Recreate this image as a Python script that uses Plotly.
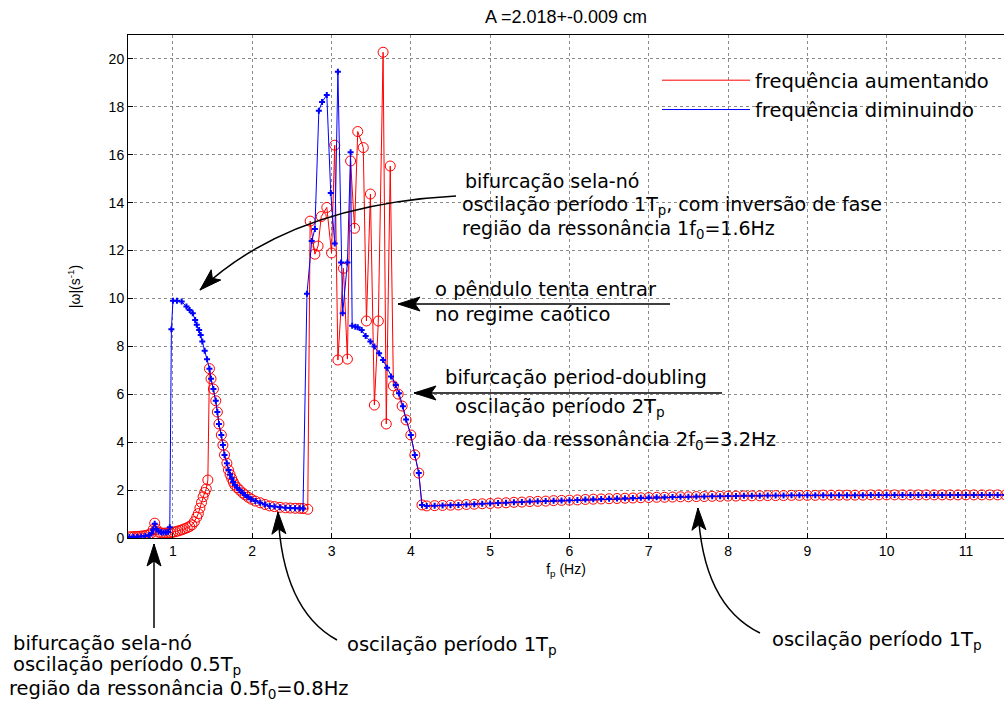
import math
import plotly.graph_objects as go

# ---------------- data ----------------
# low-frequency part, frequency increasing (red)
low_red_f = [0.45, 0.48, 0.51, 0.54, 0.57, 0.60, 0.63, 0.66, 0.69, 0.72, 0.75, 0.77, 0.79,
             0.82, 0.85, 0.88, 0.91, 0.94, 0.97, 1.00, 1.03, 1.06, 1.09, 1.12, 1.15, 1.18,
             1.21, 1.24, 1.27, 1.30, 1.32, 1.34, 1.36, 1.38, 1.40, 1.42, 1.44]
low_red_w = [0.05, 0.05, 0.06, 0.06, 0.07, 0.08, 0.09, 0.11, 0.13, 0.18, 0.35, 0.62, 0.36,
             0.24, 0.21, 0.20, 0.21, 0.21, 0.22, 0.24, 0.26, 0.29, 0.32, 0.35, 0.39, 0.43,
             0.48, 0.55, 0.68, 0.87, 1.02, 1.25, 1.48, 1.72, 1.90, 2.05, 2.42]

# low-frequency part, frequency decreasing (blue)
low_blue_f = [0.45, 0.50, 0.55, 0.60, 0.65, 0.70, 0.73, 0.75, 0.77, 0.79, 0.82, 0.85, 0.88,
              0.91, 0.94, 0.96, 0.98, 1.00, 1.05, 1.11, 1.17, 1.21, 1.25, 1.28, 1.30, 1.33,
              1.35, 1.37, 1.40, 1.43]
low_blue_w = [0.04, 0.05, 0.05, 0.06, 0.08, 0.12, 0.20, 0.35, 0.60, 0.38, 0.27, 0.24, 0.23,
              0.24, 0.25, 0.45, 8.71, 9.91, 9.91, 9.87, 9.66, 9.52, 9.38, 9.10, 8.90, 8.68,
              8.48, 8.20, 7.82, 7.46]

# common decaying branch (both sweeps)
mid_f = [1.46, 1.48, 1.51, 1.54, 1.56, 1.58, 1.61, 1.63, 1.65, 1.68, 1.70, 1.72, 1.74, 1.76,
         1.78, 1.81, 1.84, 1.88, 1.91, 1.95, 1.99, 2.04, 2.10, 2.16, 2.22, 2.28, 2.35, 2.42,
         2.48, 2.54, 2.60, 2.64]
mid_w = [7.07, 6.65, 6.22, 5.73, 5.26, 4.76, 4.30, 3.88, 3.47, 3.12, 2.84, 2.65, 2.49, 2.34,
         2.21, 2.10, 2.00, 1.88, 1.80, 1.70, 1.62, 1.54, 1.47, 1.40, 1.34, 1.31, 1.28, 1.26,
         1.25, 1.24, 1.24, 1.23]

# chaotic / period-doubling region
chaos_red_f = [2.70, 2.73, 2.79, 2.83, 2.87, 2.94, 3.00, 3.04, 3.08, 3.15, 3.20, 3.24, 3.29,
               3.33, 3.40, 3.44, 3.49, 3.54, 3.59, 3.65, 3.69, 3.74, 3.78, 3.84, 3.89, 3.94,
               4.00, 4.05, 4.10, 4.14]
chaos_red_w = [1.20, 13.23, 11.85, 12.19, 13.42, 13.80, 11.90, 16.40, 7.43, 11.26, 7.47, 15.74,
               12.93, 16.97, 16.30, 9.06, 14.36, 5.55, 9.06, 20.28, 4.76, 15.53, 6.35, 6.01,
               5.51, 4.93, 4.30, 3.47, 2.71, 1.38]

chaos_blue_f = [2.69, 2.75, 2.79, 2.84, 2.88, 2.94, 2.99, 3.04, 3.08, 3.12, 3.14, 3.20, 3.24,
                3.26, 3.30, 3.33, 3.38, 3.43, 3.49, 3.54, 3.60, 3.65, 3.70, 3.75, 3.81, 3.85,
                3.90, 3.94, 4.00, 4.05, 4.10, 4.14]
chaos_blue_w = [10.20, 12.40, 12.90, 17.84, 18.20, 18.50, 14.40, 12.30, 19.47, 11.50, 9.38,
                11.50, 16.10, 8.86, 8.82, 8.80, 8.68, 8.43, 8.20, 7.99, 7.71, 7.43, 7.11, 6.74,
                6.39, 6.04, 5.50, 4.95, 4.30, 3.47, 2.71, 1.38]

# high-frequency tail (both sweeps)
tail_f = [4.2, 4.3, 4.4, 4.5, 4.6, 4.7, 4.8, 4.9, 5.0, 5.1, 5.2, 5.3, 5.4, 5.5, 5.6, 5.7, 5.8,
          5.9, 6.0, 6.1, 6.2, 6.3, 6.4, 6.5, 6.6, 6.7, 6.8, 6.9, 7.0, 7.1, 7.2, 7.3, 7.4, 7.5,
          7.6, 7.7, 7.8, 7.9, 8.0, 8.1, 8.2, 8.3, 8.4, 8.5, 8.6, 8.7, 8.8, 8.9, 9.0, 9.1, 9.2,
          9.3, 9.4, 9.5, 9.6, 9.7, 9.8, 9.9, 10.0, 10.1, 10.2, 10.3, 10.4, 10.5, 10.6, 10.7,
          10.8, 10.9, 11.0, 11.1, 11.2, 11.3, 11.4, 11.5]
tail_w = [1.34, 1.35, 1.36, 1.37, 1.38, 1.40, 1.41, 1.43, 1.44, 1.46, 1.47, 1.49, 1.50, 1.52,
          1.53, 1.54, 1.56, 1.57, 1.58, 1.59, 1.61, 1.62, 1.63, 1.64, 1.65, 1.66, 1.67, 1.68,
          1.69, 1.70, 1.70, 1.71, 1.72, 1.72, 1.73, 1.73, 1.74, 1.74, 1.75, 1.75, 1.76, 1.76,
          1.76, 1.77, 1.77, 1.77, 1.78, 1.78, 1.78, 1.78, 1.79, 1.79, 1.79, 1.79, 1.79, 1.79,
          1.80, 1.80, 1.80, 1.80, 1.80, 1.80, 1.80, 1.80, 1.80, 1.80, 1.80, 1.80, 1.80, 1.80,
          1.80, 1.80, 1.80, 1.80]

x_ticks = [1, 2, 3, 4, 5, 6, 7, 8, 9, 10, 11]
y_ticks = [0, 2, 4, 6, 8, 10, 12, 14, 16, 18, 20]

red_f = low_red_f + mid_f + chaos_red_f + tail_f
red_w = low_red_w + mid_w + chaos_red_w + tail_w
blue_f = low_blue_f + mid_f + chaos_blue_f + tail_f
blue_w = low_blue_w + mid_w + chaos_blue_w + tail_w

# ---------------- layout helpers ----------------
W, H = 1004, 704
PL, PR, PT, PB = 128, 1004, 35, 538


def px(x):
    return (x - PL) / (PR - PL)


def py(y):
    return (PB - y) / (PB - PT)


def pt(p):
    return f"{px(p[0]):.5f},{py(p[1]):.5f}"


TXT = dict(family="DejaVu Sans", size=19.5, color="black")
TXT2 = dict(family="DejaVu Sans", size=19, color="black")
AX = dict(family="Liberation Sans, Arial", size=14, color="black")

fig = go.Figure()
fig.add_trace(go.Scatter(x=red_f, y=red_w, mode="lines", name="frequência aumentando",
                         legendgroup="r", line=dict(color="#ff0000", width=1)))
fig.add_trace(go.Scatter(x=red_f, y=red_w, mode="markers", showlegend=False, legendgroup="r",
                         marker=dict(symbol="circle-open", size=10, color="#ff0000",
                                     line=dict(width=1, color="#ff0000"))))
fig.add_trace(go.Scatter(x=blue_f, y=blue_w, mode="lines", name="frequência diminuindo",
                         legendgroup="b", line=dict(color="#0000ff", width=1)))
fig.add_trace(go.Scatter(x=blue_f, y=blue_w, mode="markers", showlegend=False, legendgroup="b",
                         marker=dict(symbol="cross", size=5, color="#0000ff")))

shapes = []


def head(tip, frm, L=22, Wd=7, notch=5):
    dx, dy = tip[0] - frm[0], tip[1] - frm[1]
    n = math.hypot(dx, dy)
    ux, uy = dx / n, dy / n
    bx, by = tip[0] - ux * L, tip[1] - uy * L
    nx, ny = -uy, ux
    p1 = (bx + nx * Wd, by + ny * Wd)
    p2 = (bx - nx * Wd, by - ny * Wd)
    pn = (tip[0] - ux * (L - notch), tip[1] - uy * (L - notch))
    shapes.append(dict(type="path", xref="paper", yref="paper",
                       path=f"M{pt(tip)} L{pt(p1)} L{pt(pn)} L{pt(p2)} Z",
                       fillcolor="black", line=dict(color="black", width=1), layer="above"))


def curve(p0, c, tip):
    shapes.append(dict(type="path", xref="paper", yref="paper",
                       path=f"M{pt(p0)} Q{pt(c)} {pt(tip)}",
                       line=dict(color="black", width=1.5), layer="above"))
    head(tip, c)


def straight(p0, tip):
    shapes.append(dict(type="path", xref="paper", yref="paper",
                       path=f"M{pt(p0)} L{pt(tip)}",
                       line=dict(color="black", width=1.5), layer="above"))
    head(tip, p0)


curve((456, 196), (290, 205), (200, 290))
straight((670, 304), (398, 304))
straight((722, 393), (414, 393))
straight((154, 628), (154, 544))
curve((337, 640), (282, 610), (278, 512))
curve((760, 633), (702, 605), (698, 508))

texts = [
    ("bifurcação sela-nó", 463, 181, TXT2),
    ("oscilação período 1T<sub>p</sub>, com inversão de fase", 460, 205, TXT2),
    ("região da ressonância 1f<sub>0</sub>=1.6Hz", 460, 229, TXT2),
    ("o pêndulo tenta entrar", 433, 289, TXT),
    ("no regime caótico", 433, 314, TXT),
    ("bifurcação period-doubling", 443, 378, TXT),
    ("oscilação período 2T<sub>p</sub>", 453, 407, TXT),
    ("região da ressonância 2f<sub>0</sub>=3.2Hz", 453, 440, TXT),
    ("bifurcação sela-nó", 11, 643, TXT),
    ("oscilação período 0.5T<sub>p</sub>", 11, 665, TXT),
    ("região da ressonância 0.5f<sub>0</sub>=0.8Hz", 7, 690, TXT),
    ("oscilação período 1T<sub>p</sub>", 345, 645, TXT),
    ("oscilação período 1T<sub>p</sub>", 770, 640, TXT),
]
annotations = [dict(text=t, x=px(x), y=py(y), xref="paper", yref="paper", xanchor="left",
                    yanchor="middle", showarrow=False, font=f) for t, x, y, f in texts]

fig.update_layout(
    width=W, height=H,
    margin=dict(l=PL, r=W - PR, t=PT, b=H - PB, pad=0),
    paper_bgcolor="white", plot_bgcolor="white",
    title=dict(text="A =2.018+-0.009 cm", x=0.5, xref="paper", y=1 - 17 / H, yref="container",
               xanchor="center", yanchor="middle",
               font=dict(family="Liberation Sans, Arial", size=18, color="black")),
    xaxis=dict(range=[0.433, 11.48], tickvals=x_ticks, showgrid=True, gridcolor="#8a8a8a",
               griddash="dot", gridwidth=1, zeroline=False, showline=True, linecolor="black",
               linewidth=1, mirror=True, ticks="inside", ticklen=5, tickcolor="black",
               tickfont=AX, title=dict(text="f<sub>p</sub> (Hz)", font=AX, standoff=6)),
    yaxis=dict(range=[0, 21], tickvals=y_ticks, showgrid=True, gridcolor="#8a8a8a",
               griddash="dot", gridwidth=1, zeroline=False, showline=True, linecolor="black",
               linewidth=1, mirror=True, ticks="inside", ticklen=5, tickcolor="black",
               tickfont=AX, title=dict(text="|ω|(s<sup>-1</sup>)", font=AX, standoff=24)),
    legend=dict(x=px(657), y=py(61), xanchor="left", yanchor="top", bgcolor="rgba(0,0,0,0)",
                borderwidth=0, itemwidth=88, tracegroupgap=1, font=TXT),
    shapes=shapes,
    annotations=annotations,
)

fig.write_html("out.html")
